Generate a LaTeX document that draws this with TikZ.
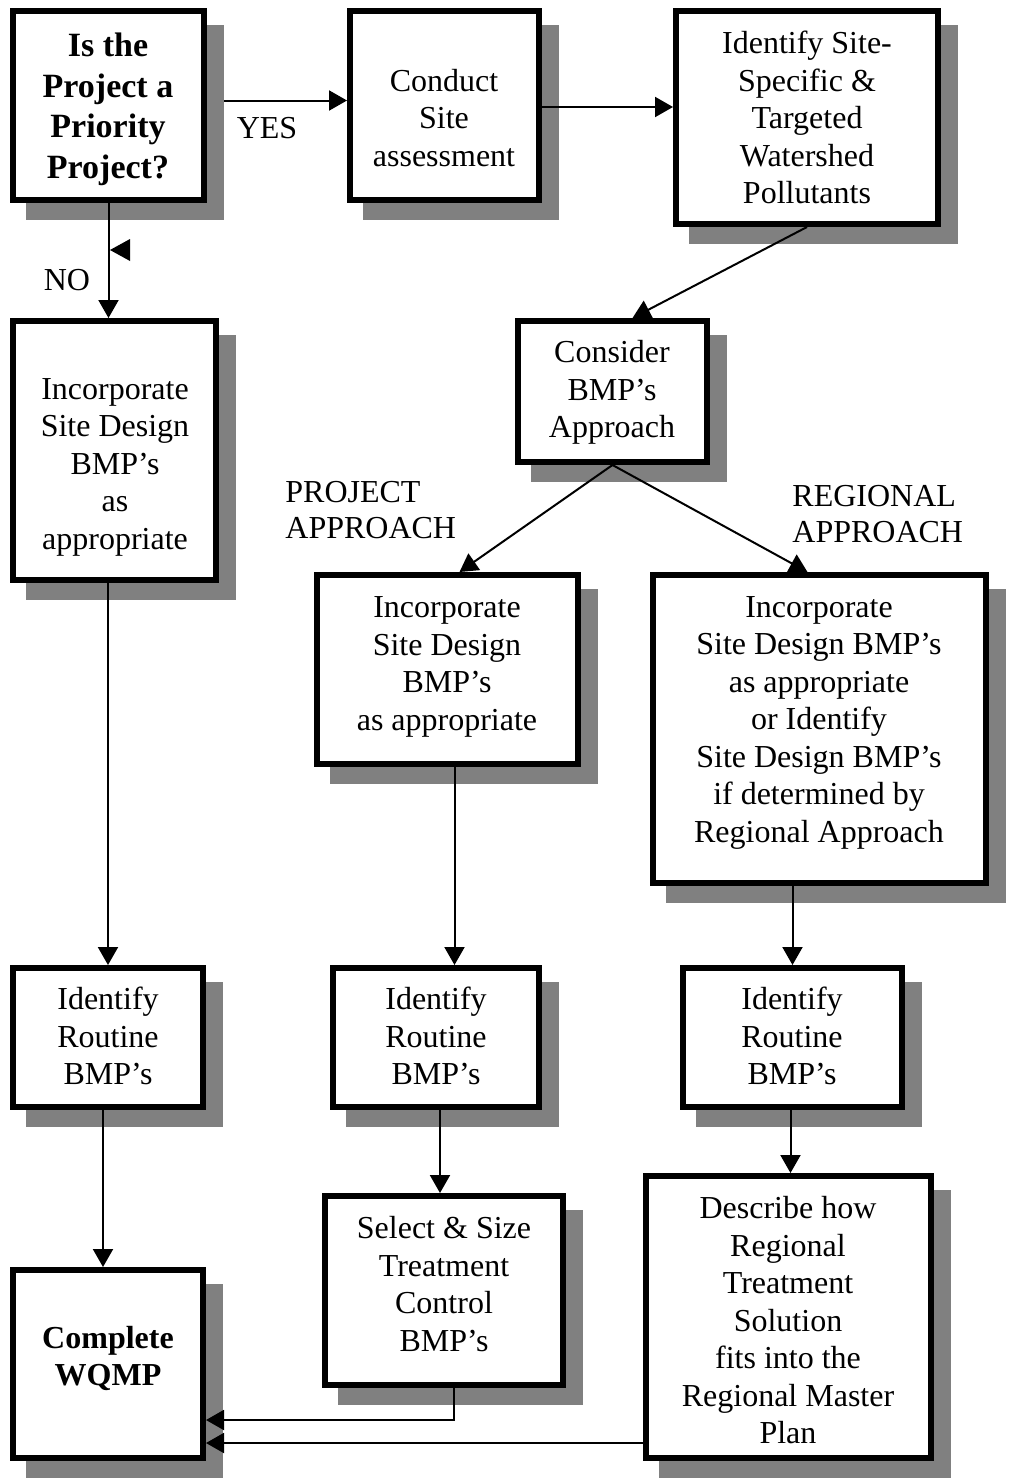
\documentclass[tikz,border=0pt]{standalone}
\usepackage{fontspec}
\setmainfont{Liberation Serif}
\usetikzlibrary{arrows.meta,calc}
\definecolor{shadowgray}{HTML}{808080}
\tikzset{
 box/.style={draw=black, line width=3pt, fill=white, inner sep=0pt},
 txt/.style={align=center, font=\fontsize{16}{18.75}\selectfont, inner sep=0pt},
 btxt/.style={align=center, font=\fontsize{17}{20.25}\selectfont\bfseries, inner sep=0pt},
 ctxt/.style={align=center, font=\fontsize{16}{18.5}\selectfont\bfseries, inner sep=0pt},
 lbl/.style={font=\fontsize{16}{18}\selectfont, inner sep=0pt, align=left},
 conn/.style={line width=1pt, -{Triangle[length=9pt,width=10pt]}},
}
\newcommand\bx[5]{%
 \fill[fill=shadowgray] (#2+16,#3+17) rectangle (#4+17,#5+17);
 \node[box, minimum width={(#4-#2-6)*0.5pt}, minimum height={(#5-#3-6)*0.5pt}] (#1) at ({(#2+#4)/2},{(#3+#5)/2}) {};
}
\begin{document}
\begin{tikzpicture}[x=0.5pt,y=-0.5pt]
\useasboundingbox (0,0) rectangle (1008,1479);
% boxes
\bx{b1}{10}{8}{207}{203}
\bx{b2}{347}{8}{542}{203}
\bx{b3}{673}{8}{941}{227}
\bx{b4}{10}{318}{219}{583}
\bx{b5}{515}{318}{710}{465}
\bx{b6}{314}{572}{581}{767}
\bx{b7}{650}{572}{989}{886}
\bx{b8}{10}{965}{206}{1110}
\bx{b9}{330}{965}{542}{1110}
\bx{b10}{680}{965}{905}{1110}
\bx{b11}{322}{1193}{566}{1388}
\bx{b12}{643}{1173}{934}{1461}
\bx{b13}{10}{1267}{206}{1461}
% texts
\node[btxt] (t1) at (108,109.5) {Is the\\Project a\\Priority\\Project?};
\node[txt] (t2) at (444,118) {Conduct\\Site\\assessment};
\node[txt] (t3) at (807,117.5) {Identify Site-\\Specific \&\\Targeted\\Watershed\\Pollutants};
\node[txt] (t4) at (115,467) {Incorporate\\Site Design\\BMP’s\\as\\appropriate};
\node[txt] (t5) at (612,392.5) {Consider\\BMP’s\\Approach};
\node[txt] (t6) at (447,667) {Incorporate\\Site Design\\BMP’s\\as appropriate};
\node[txt] (t7) at (819,722.5) {Incorporate\\Site Design BMP’s\\as appropriate\\or Identify\\Site Design BMP’s\\if determined by\\Regional Approach};
\node[txt] (t8) at (108,1036) {Identify\\Routine\\BMP’s};
\node[txt] (t9) at (436,1036) {Identify\\Routine\\BMP’s};
\node[txt] (t10) at (792,1036) {Identify\\Routine\\BMP’s};
\node[txt] (t11) at (444,1284) {Select \& Size\\Treatment\\Control\\BMP’s};
\node[txt] (t12) at (788,1320.5) {Describe how\\Regional\\Treatment\\Solution\\fits into the\\Regional Master\\Plan};
\node[ctxt] (t13) at (108,1358.5) {Complete\\WQMP};
% labels
\node[lbl] (yes) at (267,128) {YES};
\node[lbl] (no) at (67,280) {NO};
\node[lbl, anchor=west] (pa) at (285,510) {PROJECT\\APPROACH};
\node[lbl, anchor=west] (ra) at (792,514) {REGIONAL\\APPROACH};
% connectors
\coordinate (ys) at ($(b1.east)+(17,-5)$);
\draw[conn] (ys) -- (ys -| b2.west);
\coordinate (cs) at ($(b2.east)+(0,1.5)$);
\draw[conn] (cs) -- (cs -| b3.west);
\draw[conn] (b3.south) -- ($(b5.north)+(20,0)$);
\draw[conn] (b1.south) -- (b1.south |- b4.north);
\fill (110,250) -- (130,239) -- (130,261) -- cycle;
\draw[conn] (b5.south) -- ($(b6.north)+(12,0)$);
\draw[conn] (b5.south) -- ($(b7.north)+(-12,0)$);
\draw[conn] (b8.north |- b4.south) -- (b8.north);
\coordinate (s6) at ($(b6.south)+(7,0)$);
\draw[conn] (s6) -- (s6 |- b9.north);
\draw[conn] (b10.north |- b7.south) -- (b10.north);
\coordinate (s8) at ($(b8.south)+(-5,0)$);
\draw[conn] (s8) -- (s8 |- b13.north);
\coordinate (s9) at ($(b9.south)+(4,0)$);
\draw[conn] (s9) -- (s9 |- b11.north);
\coordinate (s10) at ($(b10.south)+(-2,0)$);
\draw[conn] (s10) -- (s10 |- b12.north);
\draw[conn] ($(b11.south)+(10,0)$) |- ($(b13.east)+(0,56)$);
\coordinate (w12) at ($(b12.west)+(0,126)$);
\draw[conn] (w12) -- (w12 -| b13.east);
\end{tikzpicture}
\end{document}
